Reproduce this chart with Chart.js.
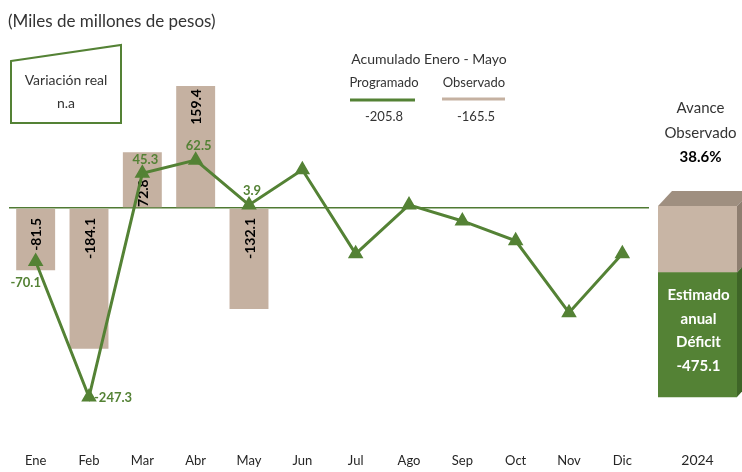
<!DOCTYPE html>
<html>
<head>
<meta charset="utf-8">
<script src="https://cdn.jsdelivr.net/npm/chart.js@4.4.1/dist/chart.umd.min.js"></script>
<style>
  html, body { margin: 0; padding: 0; background: #fff; }
  #wrap { position: relative; width: 742px; height: 472px; overflow: hidden; }
  #main { position: absolute; left: 0; top: 0; }
  #anual { position: absolute; left: 640px; top: 0; }
</style>
</head>
<body>
<div id="wrap">
  <canvas id="main" width="742" height="472"></canvas>
  <canvas id="anual" width="102" height="472"></canvas>
</div>
<script>
// datos (miles de millones de pesos)
var meses = ["Ene", "Feb", "Mar", "Abr", "May", "Jun", "Jul", "Ago", "Sep", "Oct", "Nov", "Dic"];
var programado = [-70.1, -247.3, 45.3, 62.5, 3.9, 50, -60, 4, -17, -43, -137, -60];
var observado = [-81.5, -184.1, 72.8, 159.4, -132.1, null, null, null, null, null, null, null];
var acumProgramado = -205.8;
var acumObservado = -165.5;
var estimadoAnual = -475.1;
var avanceObservado = 38.6;
var anio = ["2024"];

var verde = '#548235';
var cafe = '#c5b1a1';
var fuente = 'Lato';

// donde va cada etiqueta (solo estilo)
var posBarra = ['base', 'base', 'base', 'end', 'base'];
var posLinea = ['abajo', 'derecha', 'arriba', 'arriba', 'arriba'];

var etiquetas = {
    id: 'etiquetas',
    afterDatasetDraw: function (chart, args) {
        if (args.index !== 1) return;
        var ctx = chart.ctx;
        var cero = chart.scales.y.getPixelForValue(0);
        var barras = chart.getDatasetMeta(1).data;
        ctx.save();
        ctx.font = 'bold 14px ' + fuente;
        ctx.fillStyle = '#000';
        ctx.textBaseline = 'middle';
        for (var i = 0; i < barras.length; i++) {
            var v = observado[i];
            if (v === null) continue;
            var b = barras[i];
            var y, align;
            if (posBarra[i] === 'end') {
                y = b.y + 3; align = 'right';
            } else if (v < 0) {
                y = cero + 10; align = 'right';
            } else {
                y = cero - 1; align = 'left';
            }
            ctx.save();
            ctx.translate(b.x + 1, y);
            ctx.rotate(-Math.PI / 2);
            ctx.textAlign = align;
            ctx.fillText(v.toFixed(1), 0, 0);
            ctx.restore();
        }
        ctx.restore();
    },
    afterDatasetsDraw: function (chart) {
        var ctx = chart.ctx;
        var puntos = chart.getDatasetMeta(0).data;
        ctx.save();
        ctx.font = 'bold 13px ' + fuente;
        ctx.fillStyle = verde;
        ctx.textBaseline = 'middle';
        for (var i = 0; i < posLinea.length; i++) {
            var p = puntos[i];
            var txt = programado[i].toFixed(1);
            if (posLinea[i] === 'abajo') {
                ctx.textAlign = 'center';
                ctx.fillText(txt, p.x - 10, p.y + 21);
            } else if (posLinea[i] === 'derecha') {
                ctx.textAlign = 'left';
                ctx.fillText(txt, p.x + 5, p.y + 1);
            } else {
                ctx.textAlign = 'center';
                ctx.fillText(txt, p.x + 3, p.y - 14);
            }
        }
        ctx.restore();
    }
};

var anotaciones = {
    id: 'anotaciones',
    afterDraw: function (chart) {
        var ctx = chart.ctx;
        ctx.save();
        ctx.fillStyle = '#333';
        ctx.textBaseline = 'middle';
        ctx.textAlign = 'left';
        ctx.font = '17px ' + fuente;
        ctx.fillText('(Miles de millones de pesos)', 8, 22);

        // recuadro variacion real
        ctx.strokeStyle = verde;
        ctx.lineWidth = 2;
        ctx.beginPath();
        ctx.moveTo(11, 61);
        ctx.lineTo(121, 45);
        ctx.lineTo(121, 123);
        ctx.lineTo(11, 123);
        ctx.closePath();
        ctx.stroke();
        ctx.textAlign = 'center';
        ctx.font = '14px ' + fuente;
        ctx.fillText('Variación real', 66, 80);
        ctx.fillText('n.a', 66, 103);

        // acumulado
        ctx.fillText('Acumulado Enero - Mayo', 429, 59);
        ctx.font = '13px ' + fuente;
        ctx.fillText('Programado', 384, 83);
        ctx.fillText('Observado', 474, 83);
        ctx.fillText(acumProgramado.toFixed(1), 384, 117);
        ctx.fillText(acumObservado.toFixed(1), 476, 117);
        ctx.lineWidth = 3;
        ctx.strokeStyle = verde;
        ctx.beginPath();
        ctx.moveTo(350, 100); ctx.lineTo(415, 100);
        ctx.stroke();
        ctx.strokeStyle = cafe;
        ctx.beginPath();
        ctx.moveTo(442, 99); ctx.lineTo(505, 99);
        ctx.stroke();
        ctx.restore();
    }
};

new Chart(document.getElementById('main'), {
    type: 'bar',
    data: {
        labels: meses,
        datasets: [{
            type: 'line',
            label: 'Programado',
            data: programado,
            borderColor: verde,
            backgroundColor: verde,
            borderWidth: 3,
            tension: 0,
            pointStyle: 'triangle',
            pointRadius: 6,
            pointBackgroundColor: verde,
            pointBorderColor: verde,
            order: 0
        }, {
            label: 'Observado',
            data: observado,
            backgroundColor: cafe,
            borderWidth: 0,
            barPercentage: 0.73,
            categoryPercentage: 1,
            order: 1
        }]
    },
    options: {
        responsive: false,
        animation: false,
        layout: { padding: { left: 7, right: 93, top: 55, bottom: 0 } },
        plugins: { legend: { display: false }, tooltip: { enabled: false } },
        scales: {
            x: {
                grid: { display: false, drawTicks: false },
                border: { display: false },
                ticks: { color: '#262626', font: { family: fuente, size: 13 }, padding: 3 }
            },
            y: {
                min: -317,
                max: 200,
                ticks: { display: false, stepSize: 50 },
                border: { display: false },
                grid: {
                    drawTicks: false,
                    color: function (c) { return c.tick && c.tick.value === 0 ? '#4f7a33' : 'rgba(0,0,0,0)'; },
                    lineWidth: 1.5
                }
            }
        }
    },
    plugins: [etiquetas, anotaciones]
});

// caja 3d del estimado anual
var caja3d = {
    id: 'caja3d',
    afterDatasetsDraw: function (chart) {
        var ctx = chart.ctx;
        var verdeB = chart.getDatasetMeta(0).data[0];
        var cafeB = chart.getDatasetMeta(1).data[0];
        var izq = cafeB.x - cafeB.width / 2;
        var der = cafeB.x + cafeB.width / 2;
        var arriba = cafeB.y, medio = cafeB.base, abajo = verdeB.base;
        var dx = 14, dy = -15;
        ctx.save();
        // cara superior
        ctx.fillStyle = '#9f8f80';
        ctx.beginPath();
        ctx.moveTo(izq, arriba);
        ctx.lineTo(izq + dx, arriba + dy);
        ctx.lineTo(der + dx, arriba + dy);
        ctx.lineTo(der, arriba);
        ctx.closePath();
        ctx.fill();
        // cara lateral
        ctx.fillStyle = '#8e7e70';
        ctx.beginPath();
        ctx.moveTo(der, arriba);
        ctx.lineTo(der + dx, arriba + dy);
        ctx.lineTo(der + dx, medio + dy);
        ctx.lineTo(der, medio);
        ctx.closePath();
        ctx.fill();
        ctx.fillStyle = '#3e6527';
        ctx.beginPath();
        ctx.moveTo(der, medio);
        ctx.lineTo(der + dx, medio + dy);
        ctx.lineTo(der + dx, abajo + dy);
        ctx.lineTo(der, abajo);
        ctx.closePath();
        ctx.fill();

        // texto
        ctx.fillStyle = '#fff';
        ctx.font = 'bold 15px ' + fuente;
        ctx.textAlign = 'center';
        ctx.textBaseline = 'middle';
        var cx = cafeB.x + 1;
        var c = (medio + abajo) / 2 - 4;
        var lineas = ['Estimado', 'anual', 'Déficit', estimadoAnual.toFixed(1)];
        for (var i = 0; i < lineas.length; i++) {
            ctx.fillText(lineas[i], cx, c + (i - 1.5) * 23.5);
        }
        ctx.fillStyle = '#333';
        ctx.font = '15px ' + fuente;
        ctx.fillText('Avance', cx + 2, 108);
        ctx.fillText('Observado', cx + 2, 133);
        ctx.fillStyle = '#000';
        ctx.font = 'bold 15px ' + fuente;
        ctx.fillText(avanceObservado.toFixed(1) + '%', cx + 2, 157);
        ctx.restore();
    }
};

var totalAnual = Math.abs(estimadoAnual);
new Chart(document.getElementById('anual'), {
    type: 'bar',
    data: {
        labels: anio,
        datasets: [{
            data: [totalAnual - Math.abs(acumObservado)],
            backgroundColor: verde,
            borderWidth: 0,
            barPercentage: 1,
            categoryPercentage: 1
        }, {
            data: [Math.abs(acumObservado)],
            backgroundColor: '#c8b5a5',
            borderWidth: 0,
            barPercentage: 1,
            categoryPercentage: 1
        }]
    },
    options: {
        responsive: false,
        animation: false,
        layout: { padding: { left: 18, right: 5, top: 206, bottom: 0 } },
        plugins: { legend: { display: false }, tooltip: { enabled: false } },
        scales: {
            x: {
                stacked: true,
                grid: { display: false, drawTicks: false },
                border: { display: false },
                ticks: { color: '#262626', font: { family: fuente, size: 14 }, padding: 3 }
            },
            y: {
                stacked: true,
                display: false,
                min: -130,
                max: totalAnual
            }
        }
    },
    plugins: [caja3d]
});
</script>
</body>
</html>
